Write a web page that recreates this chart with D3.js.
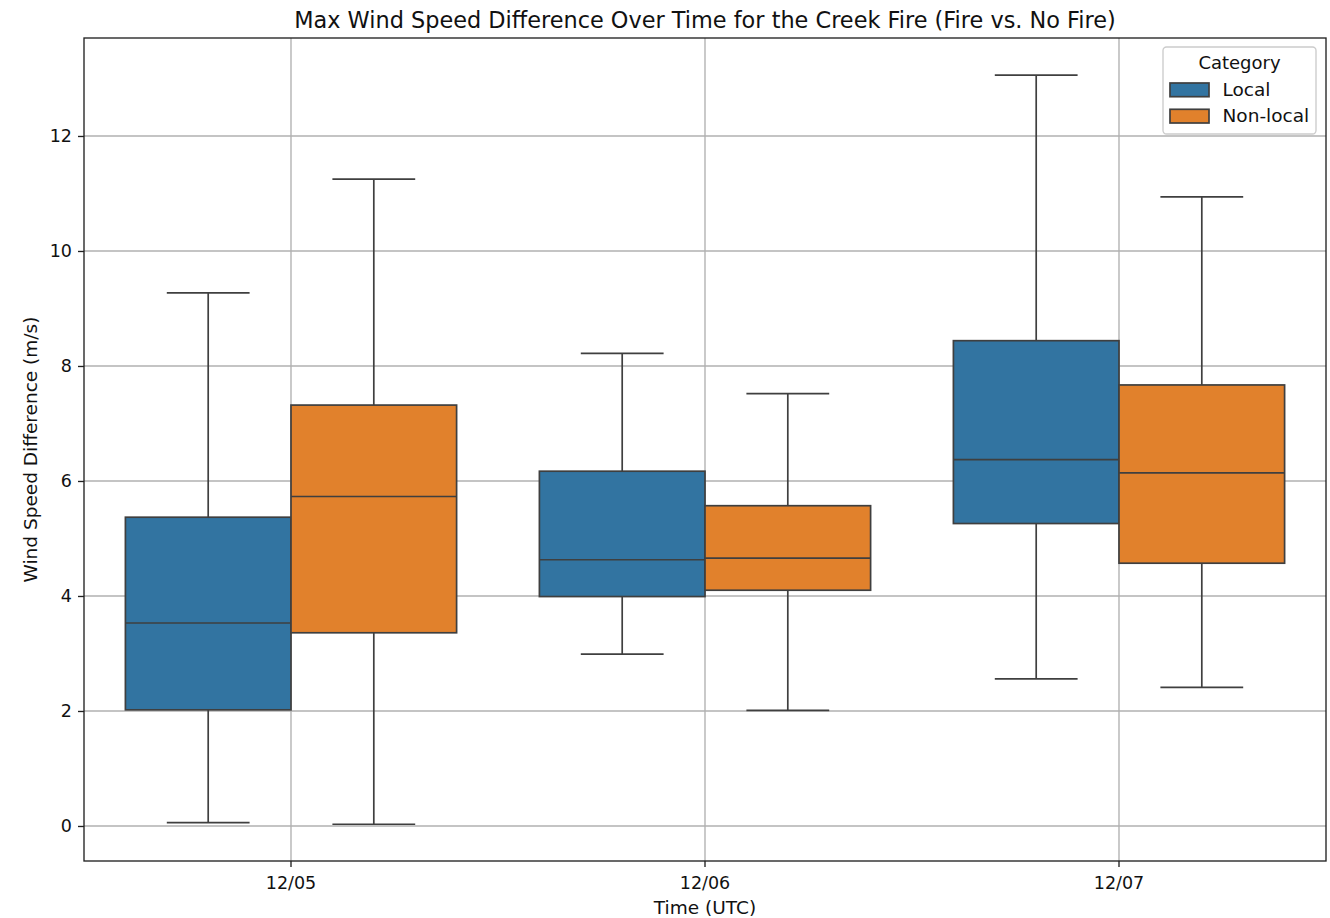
<!DOCTYPE html>
<html>
<head>
<meta charset="utf-8">
<script src="https://cdn.jsdelivr.net/npm/d3@7/dist/d3.min.js"></script>
<style>
  html, body { margin: 0; padding: 0; background: #fff; }
  svg { display: block; font-family: "DejaVu Sans", sans-serif; }
</style>
</head>
<body>
<svg id="chart" width="1330" height="918"></svg>
<script>
// Forecast dates on the x axis
const dates = ["12/05", "12/06", "12/07"];
// Hue groups
const categories = ["Local", "Non-local"];
const colors = ["#3274a1", "#e1812c"];

// Box statistics per date (m/s): whisker low, Q1, median, Q3, whisker high
const localLow    = [0.06, 2.99, 2.56];
const localQ1     = [2.02, 3.99, 5.26];
const localMedian = [3.53, 4.63, 6.37];
const localQ3     = [5.37, 6.17, 8.44];
const localHigh   = [9.27, 8.22, 13.06];

const nonLocalLow    = [0.03, 2.01, 2.41];
const nonLocalQ1     = [3.36, 4.10, 4.57];
const nonLocalMedian = [5.73, 4.66, 6.14];
const nonLocalQ3     = [7.32, 5.57, 7.67];
const nonLocalHigh   = [11.25, 7.52, 10.94];

const yTicks = [0, 2, 4, 6, 8, 10, 12];

const stats = {
  "Local":     { low: localLow, q1: localQ1, med: localMedian, q3: localQ3, high: localHigh },
  "Non-local": { low: nonLocalLow, q1: nonLocalQ1, med: nonLocalMedian, q3: nonLocalQ3, high: nonLocalHigh }
};
const boxes = [];
categories.forEach((c, ci) => {
  dates.forEach((d, di) => {
    const s = stats[c];
    boxes.push({ date: d, cat: c, ci, low: s.low[di], q1: s.q1[di], med: s.med[di], q3: s.q3[di], high: s.high[di] });
  });
});

const svg = d3.select("#chart");
const W = 1330, H = 918;
const m = { top: 38, right: 4, bottom: 57, left: 84 };
const iw = W - m.left - m.right, ih = H - m.top - m.bottom;

const x = d3.scaleBand().domain(dates).range([m.left, m.left + iw]).padding(0);
const bw = x.bandwidth();
const hue = d3.scaleBand().domain(categories).range([-0.4 * bw, 0.4 * bw]).padding(0);
const y = d3.scaleLinear().domain([-0.609, 13.704]).range([m.top + ih, m.top]);

const TICK_FONT = 17.5;
const LABEL_FONT = 18.5;
const lineCol = "#3f3f3f";
const lw = 1.7;

// grid
const grid = svg.append("g");
grid.selectAll("line.gy").data(yTicks).join("line")
  .attr("x1", m.left).attr("x2", m.left + iw)
  .attr("y1", d => y(d)).attr("y2", d => y(d))
  .attr("stroke", "#b0b0b0").attr("stroke-width", 1.35);
grid.selectAll("line.gx").data(dates).join("line")
  .attr("x1", d => x(d) + bw / 2).attr("x2", d => x(d) + bw / 2)
  .attr("y1", m.top).attr("y2", m.top + ih)
  .attr("stroke", "#b0b0b0").attr("stroke-width", 1.35);

// boxes
const g = svg.append("g");
const bx = d => x(d.date) + bw / 2 + hue(d.cat);
const hw = hue.bandwidth();
const cx = d => bx(d) + hw / 2;

const bg = g.selectAll("g.box").data(boxes).join("g");
// whiskers
bg.append("line").attr("x1", cx).attr("x2", cx)
  .attr("y1", d => y(d.q3)).attr("y2", d => y(d.high))
  .attr("stroke", lineCol).attr("stroke-width", lw);
bg.append("line").attr("x1", cx).attr("x2", cx)
  .attr("y1", d => y(d.q1)).attr("y2", d => y(d.low))
  .attr("stroke", lineCol).attr("stroke-width", lw);
// caps
bg.append("line").attr("x1", d => cx(d) - hw / 4).attr("x2", d => cx(d) + hw / 4)
  .attr("y1", d => y(d.high)).attr("y2", d => y(d.high))
  .attr("stroke", lineCol).attr("stroke-width", lw);
bg.append("line").attr("x1", d => cx(d) - hw / 4).attr("x2", d => cx(d) + hw / 4)
  .attr("y1", d => y(d.low)).attr("y2", d => y(d.low))
  .attr("stroke", lineCol).attr("stroke-width", lw);
// box body
bg.append("rect").attr("x", bx).attr("width", hw)
  .attr("y", d => y(d.q3)).attr("height", d => y(d.q1) - y(d.q3))
  .attr("fill", d => colors[d.ci]).attr("stroke", lineCol).attr("stroke-width", lw);
// median
bg.append("line").attr("x1", bx).attr("x2", d => bx(d) + hw)
  .attr("y1", d => y(d.med)).attr("y2", d => y(d.med))
  .attr("stroke", lineCol).attr("stroke-width", lw);

// axes
const yAxis = d3.axisLeft(y).tickValues(yTicks).tickSize(6).tickPadding(6).tickFormat(d3.format("d"));
const ya = svg.append("g").attr("transform", `translate(${m.left},0)`).call(yAxis);
const xAxis = d3.axisBottom(x).tickSize(6).tickPadding(9.5);
const xa = svg.append("g").attr("transform", `translate(0,${m.top + ih})`).call(xAxis);
[ya, xa].forEach(a => {
  a.select(".domain").remove();
  a.selectAll(".tick line").attr("stroke", "#222").attr("stroke-width", 1.35);
  a.selectAll(".tick text").attr("font-size", TICK_FONT).attr("fill", "#111")
    .attr("font-family", "DejaVu Sans");
});

// frame
svg.append("rect").attr("x", m.left).attr("y", m.top).attr("width", iw).attr("height", ih)
  .attr("fill", "none").attr("stroke", "#222").attr("stroke-width", 1.35);

// labels
svg.append("text").attr("x", m.left + iw / 2).attr("y", 27.5).attr("text-anchor", "middle")
  .attr("font-size", 22.4).attr("fill", "#111")
  .text("Max Wind Speed Difference Over Time for the Creek Fire (Fire vs. No Fire)");
svg.append("text").attr("x", m.left + iw / 2).attr("y", 914).attr("text-anchor", "middle")
  .attr("font-size", LABEL_FONT).attr("fill", "#111").text("Time (UTC)");
svg.append("text").attr("transform", `translate(36.5,${m.top + ih / 2}) rotate(-90)`)
  .attr("text-anchor", "middle").attr("font-size", LABEL_FONT).attr("fill", "#111")
  .text("Wind Speed Difference (m/s)");

// legend
const lg = svg.append("g");
lg.append("rect").attr("x", 1163).attr("y", 47).attr("width", 153).attr("height", 87)
  .attr("rx", 3.5).attr("fill", "#fff").attr("fill-opacity", 0.8)
  .attr("stroke", "#cccccc").attr("stroke-width", 1.35);
lg.append("text").attr("x", 1239.5).attr("y", 69).attr("text-anchor", "middle")
  .attr("font-size", 18).attr("fill", "#111").text("Category");
const li = lg.selectAll("g.item").data(categories).join("g")
  .attr("transform", (d, i) => `translate(0,${i * 26.3})`);
li.append("rect").attr("x", 1170).attr("y", 83).attr("width", 39).attr("height", 13.7)
  .attr("fill", (d, i) => colors[i]).attr("stroke", lineCol).attr("stroke-width", lw);
li.append("text").attr("x", 1222.5).attr("y", 96).attr("font-size", LABEL_FONT).attr("fill", "#111")
  .text(d => d);
</script>
</body>
</html>
